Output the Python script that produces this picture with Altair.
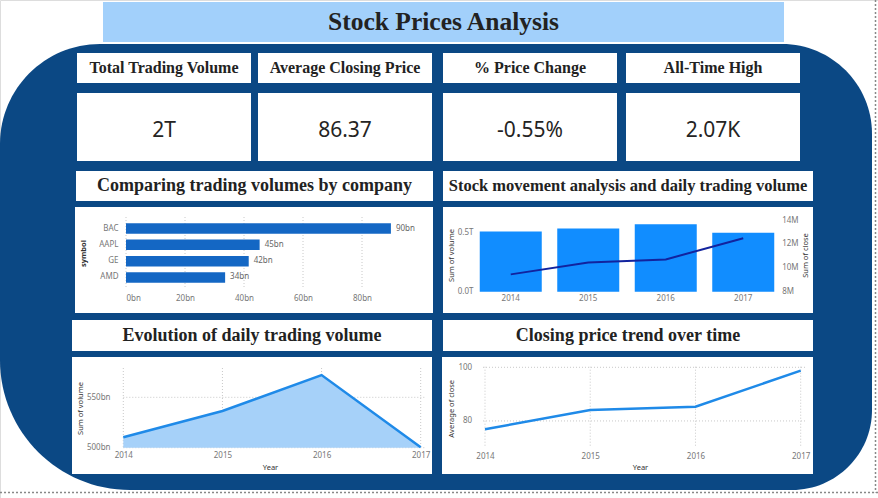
import altair as alt
import pandas as pd

# ---------------- data ----------------
dashboard_title = "Stock Prices Analysis"
kpi_titles = ["Total Trading Volume", "Average Closing Price", "% Price Change", "All-Time High"]
kpi_values = ["2T", "86.37", "-0.55%", "2.07K"]
section_titles = [
    "Comparing trading volumes by company",
    "Stock movement analysis and daily trading volume",
    "Evolution of daily trading volume",
    "Closing price trend over time",
]
symbols = ["BAC", "AAPL", "GE", "AMD"]
symbol_volume_bn = [89.8, 45.3, 41.6, 33.6]
years = ["2014", "2015", "2016", "2017"]
year_volume_bn = [510.3, 536.4, 572.1, 500.4]
year_close_sum_m = [9.45, 10.45, 10.70, 12.47]
year_close_avg = [76.9, 84.1, 85.3, 98.75]
bar_ticks_bn = [0, 20, 40, 60, 80]
combo_vol_ticks_bn = [0, 500]
combo_close_ticks_m = [8, 10, 12, 14]
area_ticks_bn = [500, 550]
line_ticks = [80, 100]

# ---------------- styles ----------------
NAVY = "#0b4884"
TITLE_BG = "#a2d0fb"
GRID = "#c8c8c8"
SERIF = "Liberation Serif"
SANS = "Noto Sans"
W, H = 878, 498
one = pd.DataFrame({"k": [0]})
bar_df = pd.DataFrame({"symbol": symbols, "volume": symbol_volume_bn})
yr_df = pd.DataFrame({"year": years, "volume": year_volume_bn,
                      "close_sum": year_close_sum_m, "close_avg": year_close_avg})


def axis(**kw):
    base = dict(labelFont=SANS, labelFontSize=8, labelColor="#777777",
                titleFont=SANS, titleFontSize=7.5, titleColor="#333333",
                titleFontWeight="normal", domain=False, ticks=False, tickSize=0,
                grid=False, labelAngle=0, zindex=1, titleAlign="center",
                titleBaseline="middle")
    base.update(kw)
    return alt.Axis(**base)


def box(x1, x2, y1, y2, color="white", **kw):
    return alt.Chart(one).mark_rect(color=color, **kw).encode(
        x=alt.value(x1), x2=alt.value(x2), y=alt.value(y1), y2=alt.value(y2))


def label(text, x, y, size, font, weight, color="#222222"):
    return alt.Chart(one).mark_text(
        text=text, font=font, fontSize=size, fontWeight=weight, color=color,
        align="center", baseline="alphabetic").encode(x=alt.value(x), y=alt.value(y))


layers = []

# ---------------- background, title, page border ----------------
layers.append(box(0, 872, 44, 490, NAVY, cornerRadiusTopLeft=100, cornerRadiusTopRight=90,
                  cornerRadiusBottomLeft=130, cornerRadiusBottomRight=80))
layers.append(alt.Chart(one).mark_rule(color="#888888", strokeDash=[2, 2], strokeWidth=1.5).encode(
    x=alt.value(0), x2=alt.value(878), y=alt.value(492.5)))
layers.append(alt.Chart(one).mark_rule(color="#888888", strokeDash=[2, 2], strokeWidth=1.5).encode(
    x=alt.value(875.5), y=alt.value(0), y2=alt.value(492.5)))
layers.append(box(103, 784, 2, 42, TITLE_BG))
layers.append(label(dashboard_title, 443.5, 29.5, 25.5, SERIF, "bold"))

# ---------------- KPI cards ----------------
kx = [(77, 251), (258, 432), (443, 617), (626, 800)]
for (a, b), t, v in zip(kx, kpi_titles, kpi_values):
    layers.append(box(a, b, 53, 83))
    layers.append(box(a, b, 93, 161))
    layers.append(label(t, (a + b) / 2, 72.5, 16, SERIF, "bold"))
    layers.append(label(v, (a + b) / 2, 136.7, 21, SANS, "normal", "#252423"))

# ---------------- section title cards ----------------
sec = [((76, 433), 171, 201, 18, 191), ((443, 813), 171, 201, 16.5, 191),
       ((72, 432), 320, 351, 18, 340.5), ((443, 813), 320, 351, 18, 340.5)]
for ((a, b), y1, y2, fs, by), t in zip(sec, section_titles):
    layers.append(box(a, b, y1, y2))
    layers.append(label(t, (a + b) / 2, by, fs, SERIF, "bold"))

# ---------------- chart cards ----------------
layers.append(box(75, 433, 207, 313))
layers.append(box(443, 813, 207, 313))
layers.append(box(72, 432, 357, 474))
layers.append(box(442, 813, 357, 474))

# ---------------- bar chart ----------------
xs_bar = alt.Scale(domain=[0, 100], range=[126, 421], nice=False)
ys_bar = alt.Scale(range=[217, 289], paddingInner=0.355, paddingOuter=0.39)
xa_bar = axis(values=bar_ticks_bn, labelExpr="datum.value + 'bn'", orient="bottom",
              offset=-(H - 289), labelPadding=5, title=None)
ya_bar = axis(orient="left", offset=-121, labelPadding=3, title="symbol",
              titleX=-38, titleY=253, titleAngle=270, titleFontWeight="bold")
bar_grid = alt.Chart(pd.DataFrame({"volume": bar_ticks_bn})).mark_rule(
    color=GRID, strokeDash=[1, 2]).encode(
    x=alt.X("volume:Q", scale=xs_bar, axis=xa_bar), y=alt.value(217), y2=alt.value(289))
bars = alt.Chart(bar_df).mark_bar(color="#1467c4").encode(
    x=alt.X("volume:Q", scale=xs_bar, axis=xa_bar),
    y=alt.Y("symbol:N", sort=symbols, scale=ys_bar, axis=ya_bar))
bar_labels = alt.Chart(bar_df).transform_calculate(
    lbl="format(datum.volume, '.0f') + 'bn'").mark_text(
    align="left", dx=5, baseline="middle", font=SANS, fontSize=8, color="#666666").encode(
    x=alt.X("volume:Q", scale=xs_bar, axis=xa_bar),
    y=alt.Y("symbol:N", sort=symbols, scale=ys_bar, axis=ya_bar), text="lbl:N")
bar_layer = alt.layer(bar_grid, bars, bar_labels)

# ---------------- combo chart ----------------
xs_combo = alt.Scale(range=[472, 782], paddingInner=0.2, paddingOuter=0.1)
xa_combo = axis(orient="bottom", offset=-(H - 291.7), labelPadding=3, title=None)
combo_bars = alt.Chart(yr_df).mark_bar(color="#118dff").encode(
    x=alt.X("year:O", scale=xs_combo, axis=xa_combo),
    y=alt.Y("volume:Q", scale=alt.Scale(domain=[0, 607.6], range=[291.7, 220], nice=False),
            axis=axis(orient="left", offset=-476, labelPadding=3, values=combo_vol_ticks_bn,
                      labelExpr="format(datum.value / 1000, '.1f') + 'T'",
                      title="Sum of volume", titleX=-25, titleY=255, titleAngle=270)))
combo_line = alt.Chart(yr_df).mark_line(color="#12239e", strokeWidth=2).encode(
    x=alt.X("year:O", scale=xs_combo, axis=xa_combo),
    y=alt.Y("close_sum:Q", scale=alt.Scale(domain=[8, 14], range=[291.7, 220], nice=False, zero=False),
            axis=axis(orient="right", offset=-(W - 778.7), labelPadding=3,
                      values=combo_close_ticks_m, labelExpr="datum.value + 'M'",
                      title="Sum of close", titleX=27, titleY=255, titleAngle=270)))
combo_layer = alt.layer(combo_bars, combo_line).resolve_scale(y="independent")

# ---------------- area chart ----------------
xs_area = alt.Scale(type="point", range=[123.3, 420.7], padding=0)
ys_area = alt.Scale(domain=[500, 579.1], range=[447.7, 368], nice=False, zero=False)
xa_area = axis(orient="bottom", offset=-(H - 447.7), labelPadding=4, title="Year",
               titleX=270, titleY=19.6, titleAngle=0)
ya_area = axis(orient="left", offset=-113, labelPadding=3, values=area_ticks_bn,
               labelExpr="datum.value + 'bn'", title="Sum of volume",
               titleX=-32.3, titleY=408, titleAngle=270)
area_vgrid = alt.Chart(yr_df).mark_rule(color=GRID, strokeDash=[1, 2]).encode(
    x=alt.X("year:O", scale=xs_area, axis=xa_area), y=alt.value(368), y2=alt.value(447.7))
area_hgrid = alt.Chart(pd.DataFrame({"volume": area_ticks_bn})).mark_rule(
    color=GRID, strokeDash=[1, 2]).encode(
    y=alt.Y("volume:Q", scale=ys_area, axis=ya_area), x=alt.value(123.3), x2=alt.value(425))
area = alt.Chart(yr_df).mark_area(color="#a6d1f9", opacity=1).encode(
    x=alt.X("year:O", scale=xs_area, axis=xa_area),
    y=alt.Y("volume:Q", scale=ys_area, axis=ya_area),
    y2=alt.datum(500))
area_line = alt.Chart(yr_df).mark_line(color="#1f8ae8", strokeWidth=2.5).encode(
    x=alt.X("year:O", scale=xs_area, axis=xa_area),
    y=alt.Y("volume:Q", scale=ys_area, axis=ya_area))
area_layer = alt.layer(area_vgrid, area_hgrid, area, area_line)

# ---------------- line chart ----------------
xs_line = alt.Scale(type="point", range=[485, 800.7], padding=0)
ys_line = alt.Scale(domain=[70.4, 100], range=[446.7, 367.3], nice=False, zero=False)
xa_line = axis(orient="bottom", offset=-(H - 446.7), labelPadding=5.5, title="Year",
               titleX=640, titleY=20.6, titleAngle=0)
ya_line = axis(orient="left", offset=-474.7, labelPadding=3, values=line_ticks,
               title="Average of close", titleX=-23.7, titleY=408.3, titleAngle=270)
line_vgrid = alt.Chart(yr_df).mark_rule(color=GRID, strokeDash=[1, 2]).encode(
    x=alt.X("year:O", scale=xs_line, axis=xa_line), y=alt.value(366.7), y2=alt.value(446.7))
line_hgrid = alt.Chart(pd.DataFrame({"close_avg": line_ticks})).mark_rule(
    color=GRID, strokeDash=[1, 2]).encode(
    y=alt.Y("close_avg:Q", scale=ys_line, axis=ya_line), x=alt.value(483), x2=alt.value(806))
line = alt.Chart(yr_df).mark_line(color="#1f8ae8", strokeWidth=2.5).encode(
    x=alt.X("year:O", scale=xs_line, axis=xa_line),
    y=alt.Y("close_avg:Q", scale=ys_line, axis=ya_line))
line_layer = alt.layer(line_vgrid, line_hgrid, line)

layers += [bar_layer, combo_layer, area_layer, line_layer]

chart = alt.layer(*layers).resolve_scale(x="independent", y="independent").properties(
    width=W, height=H, padding=0, background="white",
    autosize=alt.AutoSizeParams(type="none"),
).configure_view(stroke="transparent", strokeWidth=0).configure(font=SANS)

chart.save("out.html", embed_options={"renderer": "svg", "actions": False})
